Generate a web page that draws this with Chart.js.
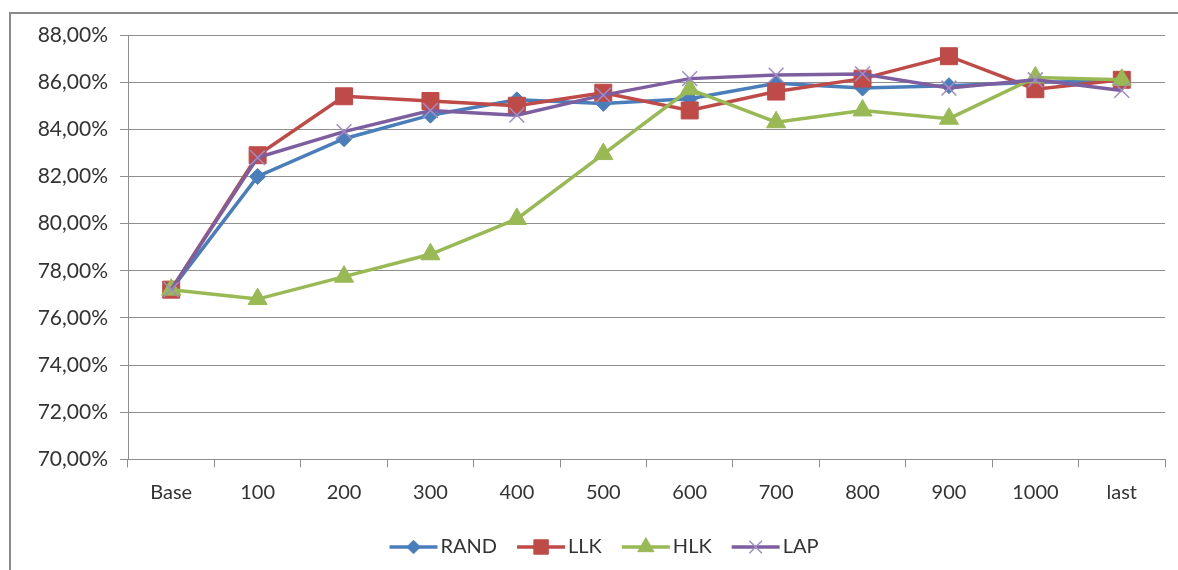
<!DOCTYPE html>
<html>
<head>
<meta charset="utf-8">
<script src="https://cdn.jsdelivr.net/npm/chart.js@4/dist/chart.umd.min.js"></script>
<style>
  html, body { margin: 0; padding: 0; background: #fff; }
  #wrap { position: relative; width: 1178px; height: 570px; overflow: hidden; }
  #frame { position: absolute; left: 9px; top: 12px; width: 1300px; height: 700px;
           border-left: 2px solid #8a8a8a; border-top: 2px solid #8a8a8a; box-sizing: border-box; }
  canvas { position: absolute; left: 0; top: 0; }
</style>
</head>
<body>
<div id="wrap">
  <div id="frame"></div>
  <canvas id="c" width="1178" height="570"></canvas>
</div>
<script>
// Accuracy per training size
const categories = ['Base', '100', '200', '300', '400', '500', '600', '700', '800', '900', '1000', 'last'];
const rand = [77.2, 82.0, 83.6, 84.6, 85.25, 85.1, 85.3, 85.95, 85.75, 85.85, 86.0, 86.05];
const llk  = [77.2, 82.9, 85.4, 85.2, 85.0, 85.55, 84.8, 85.6, 86.15, 87.1, 85.7, 86.1];
const hlk  = [77.2, 76.8, 77.75, 78.7, 80.2, 82.95, 85.7, 84.3, 84.8, 84.45, 86.2, 86.1];
const lap  = [77.2, 82.8, 83.9, 84.8, 84.6, 85.45, 86.15, 86.3, 86.35, 85.75, 86.1, 85.65];
const seriesNames = ['RAND', 'LLK', 'HLK', 'LAP'];

const FONT = 'Lato, "Open Sans", sans-serif';
const TEXT = '#333333';
const GRID = '#8e8e8e';

const styles = [
  { color: '#4a7ebb', point: 'rectRot', radius: 8, pointColor: '#4a7ebb', pbw: 1 },
  { color: '#be4b48', point: 'rect', radius: 12, pointColor: '#be4b48', pbw: 1 },
  { color: '#98b954', point: 'triangle', radius: 11, pointColor: '#98b954', pbw: 1 },
  { color: '#7d5fa0', point: 'crossRot', radius: 10.5, pointColor: '#a08cc6', pbw: 1.5 }
];
const values = [rand, llk, hlk, lap];

const datasets = values.map((v, i) => ({
  label: seriesNames[i],
  data: v,
  borderColor: styles[i].color,
  backgroundColor: styles[i].pointColor,
  borderWidth: 3.5,
  pointStyle: styles[i].point,
  pointRadius: styles[i].radius,
  pointHoverRadius: styles[i].radius,
  pointBackgroundColor: styles[i].pointColor,
  pointBorderColor: styles[i].pointColor,
  pointBorderWidth: styles[i].pbw,
  tension: 0,
  order: 4 - i
}));

// Legend drawn on the canvas: line sample with marker, then the name
const lineLegend = {
  id: 'lineLegend',
  afterDraw(chart) {
    const ctx = chart.ctx;
    ctx.save();
    ctx.font = '20px ' + FONT;
    const lineW = 48, gapText = 3, gapItem = 20;
    const widths = seriesNames.map(n => ctx.measureText(n).width);
    let total = 0;
    widths.forEach((w, i) => { total += lineW + gapText + w + (i < widths.length - 1 ? gapItem : 0); });
    let x = 604 - total / 2;
    const y = 547;
    seriesNames.forEach((n, i) => {
      const s = styles[i];
      ctx.strokeStyle = s.color;
      ctx.lineWidth = 3.5;
      ctx.beginPath();
      ctx.moveTo(x, y);
      ctx.lineTo(x + lineW, y);
      ctx.stroke();
      ctx.fillStyle = s.pointColor;
      ctx.strokeStyle = s.pointColor;
      ctx.lineWidth = s.pbw;
      Chart.helpers.drawPoint(ctx, { pointStyle: s.point, radius: s.radius * 0.85, rotation: 0, borderWidth: s.pbw }, x + lineW / 2, y);
      ctx.fillStyle = TEXT;
      ctx.textBaseline = 'middle';
      ctx.textAlign = 'left';
      ctx.fillText(n, x + lineW + gapText, y);
      x += lineW + gapText + widths[i] + gapItem;
    });
    ctx.restore();
  }
};

new Chart(document.getElementById('c'), {
  type: 'line',
  data: { labels: categories, datasets },
  options: {
    responsive: false,
    animation: false,
    events: [],
    layout: { padding: { top: 35, right: 12, left: 0, bottom: 0 } },
    plugins: { legend: { display: false }, tooltip: { enabled: false } },
    scales: {
      x: {
        offset: true,
        grid: { offset: true, drawOnChartArea: false, drawTicks: true, tickLength: 8, color: GRID, lineWidth: 1 },
        border: { display: false },
        ticks: { font: { family: FONT, size: 20 }, color: TEXT, padding: 13, maxRotation: 0 },
        afterFit(scale) { scale.height = 110.6; }
      },
      y: {
        min: 70,
        max: 88,
        grid: { color: GRID, lineWidth: 1, tickLength: 8 },
        border: { display: true, color: GRID, width: 1 },
        ticks: {
          stepSize: 2,
          font: { family: FONT, size: 21 },
          color: TEXT,
          padding: 12,
          callback: v => v.toFixed(2).replace('.', ',') + '%'
        },
        afterFit(scale) { scale.width = 128; }
      }
    }
  },
  plugins: [lineLegend]
});
</script>
</body>
</html>
